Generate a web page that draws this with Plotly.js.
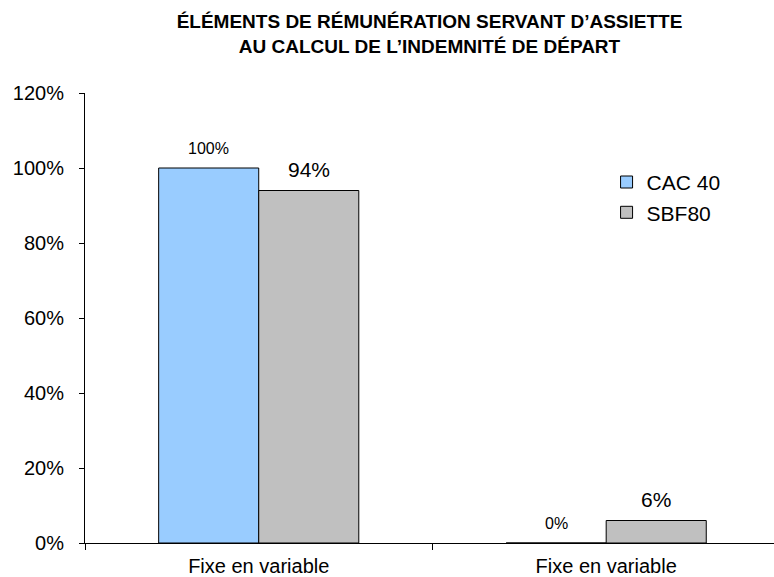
<!DOCTYPE html>
<html>
<head>
<meta charset="utf-8">
<script src="https://cdn.plot.ly/plotly-3.0.1.min.js"></script>
<style>html,body{margin:0;padding:0;background:#fff;}#chart{width:774px;height:577px;}</style>
</head>
<body>
<div id="chart"></div>
<script>
const categories = ['Fixe en variable', 'Fixe en variable'];
const seriesNames = ['CAC 40', 'SBF80'];
const cac40 = [100, 0];
const sbf80 = [94, 6];
const yTicks = [0, 20, 40, 60, 80, 100, 120];

const FONT = 'Liberation Sans, Arial, sans-serif';
const bargap = 0.424;
const barW = (1 - bargap) / 2;
const idx = categories.map((c, i) => i);

const traces = [
  {type: 'bar', name: seriesNames[0], x: idx, y: cac40,
   marker: {color: '#99CCFF', line: {color: '#000', width: 1}}, hoverinfo: 'none'},
  {type: 'bar', name: seriesNames[1], x: idx, y: sbf80,
   marker: {color: '#C0C0C0', line: {color: '#000', width: 1}}, hoverinfo: 'none'}
];

const annotations = [];
idx.forEach(i => {
  annotations.push({x: i - barW / 2, y: cac40[i], xref: 'x', yref: 'y', text: cac40[i] + '%',
    showarrow: false, yanchor: 'bottom', yshift: 9, font: {family: FONT, size: 16, color: '#000'}});
  annotations.push({x: i + barW / 2, y: sbf80[i], xref: 'x', yref: 'y', text: sbf80[i] + '%',
    showarrow: false, yanchor: 'bottom', yshift: 8, font: {family: FONT, size: 21, color: '#000'}});
});

const layout = {
  width: 774, height: 577,
  margin: {l: 85, r: 0, t: 93, b: 34},
  paper_bgcolor: '#fff', plot_bgcolor: '#fff',
  font: {family: FONT, color: '#000', size: 20},
  barmode: 'group', bargap: bargap, bargroupgap: 0,
  title: {text: '<b>ÉLÉMENTS DE RÉMUNÉRATION SERVANT D\u2019ASSIETTE<br>AU CALCUL DE L\u2019INDEMNITÉ DE DÉPART</b>',
    font: {family: FONT, size: 19, color: '#000'}, x: 0.5, xref: 'paper', xanchor: 'center',
    y: 0.951, yref: 'container', yanchor: 'top'},
  xaxis: {range: [-0.5, 1.483], tickmode: 'array', tickvals: idx, ticktext: categories,
    ticks: '', showline: true, linecolor: '#000', linewidth: 1, showgrid: false, zeroline: false,
    tickfont: {family: FONT, size: 20, color: '#000'}, ticklabelstandoff: 5,
    minor: {tickmode: 'array', tickvals: [-0.5, 0.5, 1.5], ticks: 'outside', ticklen: 6, tickcolor: '#000', showgrid: false}},
  yaxis: {range: [0, 120], tickmode: 'array', tickvals: yTicks, ticktext: yTicks.map(v => v + '%'),
    ticks: 'outside', ticklen: 5, tickcolor: '#000', showline: true, linecolor: '#000', linewidth: 1,
    showgrid: false, zeroline: false, tickfont: {family: FONT, size: 20, color: '#000'}, ticklabelstandoff: 11},
  legend: {x: 0.757, y: 0.847, xanchor: 'left', yanchor: 'top', bgcolor: 'rgba(0,0,0,0)',
    font: {family: FONT, size: 21, color: '#000'}},
  annotations: annotations,
  showlegend: true
};

Plotly.newPlot('chart', traces, layout, {displayModeBar: false, staticPlot: true});
</script>
</body>
</html>
